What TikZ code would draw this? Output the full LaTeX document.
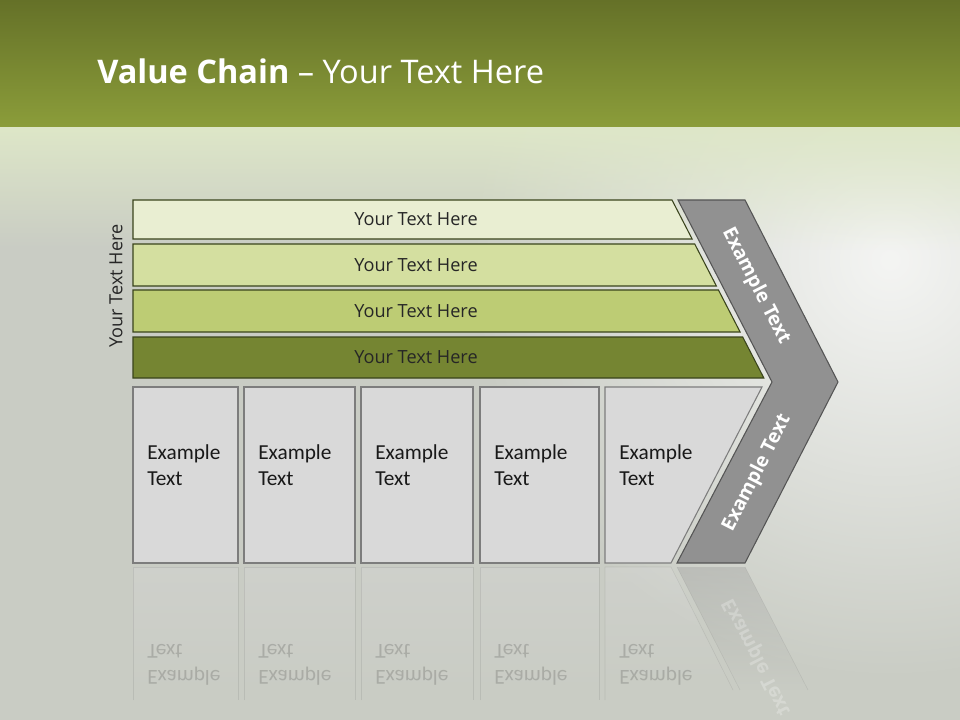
\documentclass[tikz,border=0pt]{standalone}
\usepackage{fontspec}
\setmainfont{Carlito}
\newfontfamily\barfont{Open Sans}
\usetikzlibrary{fadings}
\definecolor{olivetop}{RGB}{101,113,40}
\definecolor{olivemid}{RGB}{139,157,58}
\definecolor{mist}{RGB}{201,204,196}
\definecolor{haze}{RGB}{222,231,200}
\definecolor{barone}{RGB}{233,238,210}
\definecolor{bartwo}{RGB}{212,223,160}
\definecolor{barthree}{RGB}{189,204,116}
\definecolor{barfour}{RGB}{117,133,50}
\definecolor{barline}{RGB}{58,68,28}
\definecolor{boxgray}{RGB}{217,217,217}
\definecolor{boxline}{RGB}{125,125,125}
\definecolor{chevgray}{RGB}{145,145,145}
\definecolor{chevline}{RGB}{85,85,85}
\tikzfading[name=softglow,inner color=transparent!0,outer color=transparent!100]
\tikzset{
  bartext/.style={font=\barfont\fontsize{13.6}{16}\selectfont,text=black!85},
  boxtext/.style={font=\fontsize{16}{19.5}\selectfont,align=left,anchor=west,inner sep=0pt,text=black!90},
  chevtext/.style={font=\barfont\bfseries\fontsize{14.5}{17}\selectfont,text=white,inner sep=1pt},
  ghost/.style={opacity=0.18}
}
% bar: name, top y, bottom y, fill
\newcommand{\chainbar}[4]{%
  \pgfmathsetmacro{\rt}{672+0.516*(#2-200)}%
  \pgfmathsetmacro{\rb}{672+0.516*(#3-200)}%
  \filldraw[fill=#4,draw=barline,line width=0.8pt] (133,#2) -- (\rt,#2) -- (\rb,#3) -- (133,#3) -- cycle;%
  \node[bartext] (#1) at (416,{(#2+#3)/2}) {Your Text Here};%
}
% activity box: name, left x, right x
\newcommand{\actbox}[3]{%
  \filldraw[fill=boxgray,draw=boxline,line width=0.8pt] (#2,387) rectangle (#3,563);%
  \node[boxtext] (#1) at (#2+14,465) {Example\\Text};%
  \fill[boxgray,opacity=0.35,path fading=south] (#2,567) rectangle (#3,700);%
  \draw[boxline,opacity=0.2] (#2,700) -- (#2,567) -- (#3,567) -- (#3,700);%
  \node[boxtext,ghost,yscale=-1] (#1r) at (#2+14,665) {Example\\Text};%
}

\begin{document}
\begin{tikzpicture}[x=0.75pt,y=-0.75pt]
  \useasboundingbox (0,0) rectangle (960,720);
  % background
  \fill[mist] (0,0) rectangle (960,720);
  \fill[white,opacity=0.8,path fading=softglow] (890,260) circle (420);
  \fill[haze,path fading=south] (0,127) rectangle (960,250);
  \shade[top color=olivetop,bottom color=olivemid] (0,0) rectangle (960,127);
  \node[font=\barfont\fontsize{24.4}{28}\selectfont,text=white,anchor=base west,inner sep=0pt] (title) at (97,84)
    {\textbf{Value Chain} – Your Text Here};

  % bars
  \chainbar{bar1}{200}{239}{barone}
  \chainbar{bar2}{244}{286}{bartwo}
  \chainbar{bar3}{290}{332}{barthree}
  \chainbar{bar4}{337}{378}{barfour}
  \node[bartext,rotate=90] (side) at (116,286) {Your Text Here};

  % boxes
  \actbox{box1}{133}{238}
  \actbox{box2}{244}{355}
  \actbox{box3}{361}{473}
  \actbox{box4}{480}{599}
  \filldraw[fill=boxgray,draw=boxline,line width=0.8pt] (605,387) -- (762,387) -- (671,563) -- (605,563) -- cycle;
  \node[boxtext] (box5) at (619,465) {Example\\Text};
  \fill[boxgray,opacity=0.35,path fading=south] (605,567) -- (671,567) -- (733,690) -- (605,690) -- cycle;
  \draw[boxline,opacity=0.2] (605,700) -- (605,567) -- (671,567) -- (733,690);
  \node[boxtext,ghost,yscale=-1] (box5r) at (619,665) {Example\\Text};

  % chevron
  \filldraw[fill=chevgray,draw=chevline,line width=0.8pt]
    (678,200) -- (745,200) -- (838,382) -- (745,563) -- (677,563) -- (772,382) -- cycle;
  \node[chevtext,rotate=-62.9] (chevup) at (756,286) {Example Text};
  \node[chevtext,rotate=62.9] (chevdown) at (757,473) {Example Text};
  \fill[chevgray,opacity=0.3,path fading=south] (677,567) -- (745,567) -- (808,690) -- (740,690) -- cycle;
  \draw[chevline,opacity=0.12] (677,567) -- (740,690) (745,567) -- (808,690);
  \node[chevtext,opacity=0.25,rotate=-62.9,yscale=-1] (chevdownr) at (757,657) {Example Text};
\end{tikzpicture}
\end{document}
